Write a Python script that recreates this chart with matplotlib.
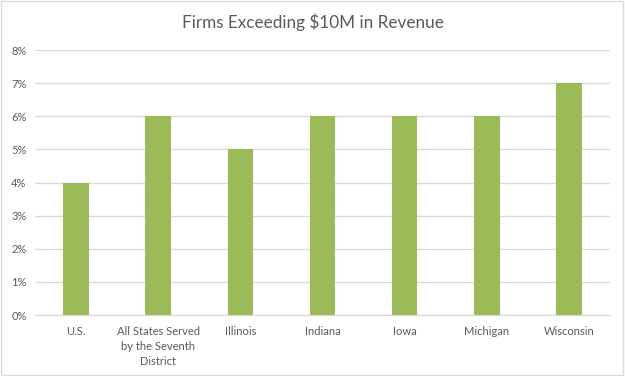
import matplotlib.pyplot as plt
from matplotlib.patches import Rectangle
from matplotlib.ticker import PercentFormatter

categories = ["U.S.", "All States Served\nby the Seventh\nDistrict", "Illinois",
              "Indiana", "Iowa", "Michigan", "Wisconsin"]
values = [4, 6, 5, 6, 6, 6, 7]

plt.rcParams['font.family'] = ['Lato', 'DejaVu Sans']

fig = plt.figure(figsize=(6.25, 3.76), dpi=100)
ax = fig.add_axes([0.056, 0.162, 0.92, 0.705])

x = range(len(categories))
ax.bar(x, values, width=0.31, color='#9BBB59', zorder=3)

ax.set_ylim(0, 8)
ax.set_xlim(-0.5, len(categories) - 0.5)
ax.set_yticks(range(0, 9))
ax.yaxis.set_major_formatter(PercentFormatter(decimals=0))
ax.grid(axis='y', color='#D9D9D9', linewidth=1, zorder=0)
for s in ['top', 'right', 'left']:
    ax.spines[s].set_visible(False)
ax.spines['bottom'].set_color('#D9D9D9')
ax.tick_params(length=0, labelsize=8, labelcolor='#595959')
ax.tick_params(axis='x', pad=8)
ax.tick_params(axis='y', pad=6)
ax.set_xticks(list(x))
ax.set_xticklabels(categories, linespacing=1.45)

fig.suptitle("Firms Exceeding $10M in Revenue", y=0.965, fontsize=12.3, color='#595959')

fig.patches.append(Rectangle((0.002, 0.003), 0.995, 0.994, transform=fig.transFigure,
                             fill=False, edgecolor='#D9D9D9', linewidth=1))

fig.savefig("out.png", dpi=100)
